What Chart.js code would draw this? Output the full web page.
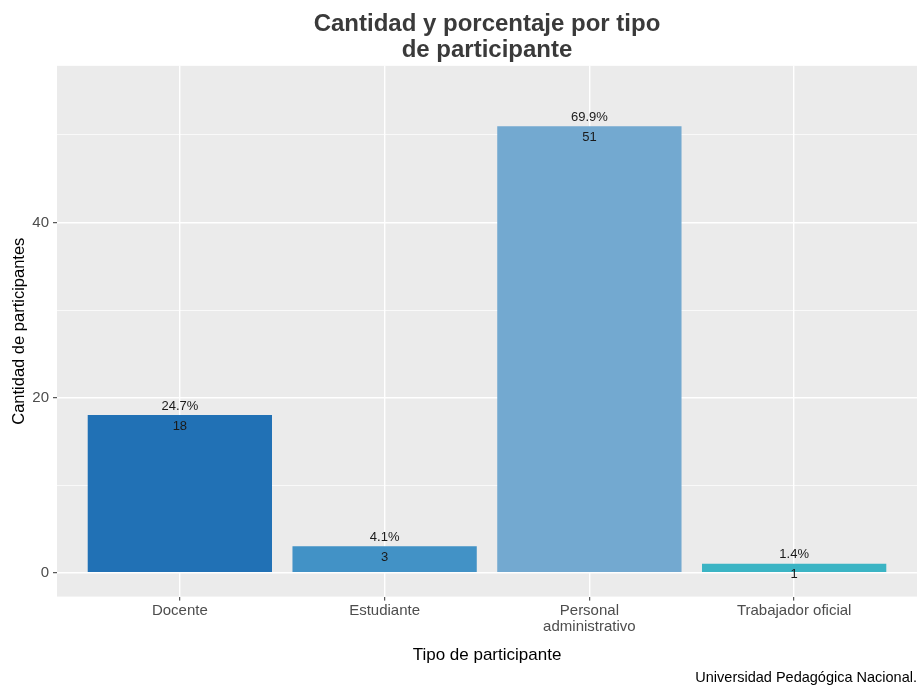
<!DOCTYPE html>
<html>
<head>
<meta charset="utf-8">
<script src="https://cdn.jsdelivr.net/npm/chart.js@4/dist/chart.umd.min.js"></script>
<style>
  html, body { margin: 0; padding: 0; background: #fff; }
  #wrap { width: 917px; height: 687px; }
</style>
</head>
<body>
<div id="wrap"><canvas id="chart"></canvas></div>
<script>
// data
var categories = ["Docente", "Estudiante", ["Personal", "administrativo"], "Trabajador oficial"];
var counts = [18, 3, 51, 1];
var percents = ["24.7%", "4.1%", "69.9%", "1.4%"];
var barColors = ["#2171B5", "#4292C6", "#73A9D0", "#3BB4C4"];
var yTickLabels = [0, 20, 40];

var FONT = "'Liberation Sans', Arial, sans-serif";

// grey ggplot panel behind the bars
var panelBg = {
  id: "panelBg",
  beforeDraw: function(chart) {
    var a = chart.chartArea, ctx = chart.ctx;
    ctx.save();
    ctx.fillStyle = "#fff";
    ctx.fillRect(0, 0, chart.width, chart.height);
    ctx.fillStyle = "#EBEBEB";
    ctx.fillRect(a.left, a.top, a.right - a.left, a.bottom - a.top);
    ctx.restore();
  }
};

// percent above each bar, count just inside the top
var barLabels = {
  id: "barLabels",
  afterDatasetsDraw: function(chart) {
    var ctx = chart.ctx;
    var meta = chart.getDatasetMeta(0);
    ctx.save();
    ctx.font = "13px " + FONT;
    ctx.fillStyle = "#1a1a1a";
    ctx.textAlign = "center";
    ctx.textBaseline = "middle";
    meta.data.forEach(function(bar, i) {
      ctx.fillText(percents[i], bar.x, bar.y - 9);
      ctx.fillText(String(counts[i]), bar.x, bar.y + 11);
    });
    ctx.restore();
  }
};

new Chart(document.getElementById("chart"), {
  type: "bar",
  data: {
    datasets: [{
      data: counts.map(function(v, i) { return { x: i, y: v }; }),
      backgroundColor: barColors,
      borderWidth: 0,
      categoryPercentage: 1,
      barPercentage: 0.9
    }]
  },
  options: {
    responsive: true,
    maintainAspectRatio: false,
    animation: false,
    layout: { padding: { top: 0, right: 0, bottom: 0, left: 0 } },
    plugins: {
      legend: { display: false },
      tooltip: { enabled: false },
      title: {
        display: true,
        fullSize: false, // centre over the panel like ggplot
        text: ["Cantidad y porcentaje por tipo", "de participante"],
        color: "#3a3a3a",
        font: { family: FONT, size: 24, weight: "bold", lineHeight: 1.08 },
        padding: { top: 11, bottom: 3 }
      },
      subtitle: {
        display: true,
        position: "bottom",
        align: "end",
        text: "Universidad Pedagógica Nacional.",
        color: "#000",
        font: { family: FONT, size: 14.5 },
        padding: { top: 0, bottom: 0 }
      }
    },
    scales: {
      x: {
        type: "linear",
        offset: false,
        min: -0.6,
        max: 3.6,
        afterFit: function(scale) { scale.height = 73; },
        ticks: {
          stepSize: 1,
          includeBounds: false,
          autoSkip: false,
          maxRotation: 0,
          padding: 2,
          color: "#4D4D4D",
          font: { family: FONT, size: 15, lineHeight: 1.1 },
          callback: function(v) { return categories[v]; }
        },
        grid: {
          offset: false,
          color: "#fff",
          lineWidth: 1.4,
          tickLength: 4,
          tickColor: "#333",
          tickWidth: 1
        },
        border: { display: false },
        title: {
          display: true,
          text: "Tipo de participante",
          color: "#000",
          font: { family: FONT, size: 17 },
          padding: { top: 0, bottom: 4 }
        }
      },
      y: {
        min: -2.74,
        max: 57.9,
        afterFit: function(scale) { scale.width = 57; },
        ticks: {
          stepSize: 10,
          includeBounds: false,
          padding: 4,
          color: "#4D4D4D",
          font: { family: FONT, size: 15 },
          callback: function(v) { return yTickLabels.indexOf(v) >= 0 ? String(v) : ""; }
        },
        grid: {
          color: "#fff",
          lineWidth: function(c) { return c.tick && yTickLabels.indexOf(c.tick.value) >= 0 ? 1.4 : 0.7; },
          tickLength: 4,
          tickColor: function(c) { return c.tick && yTickLabels.indexOf(c.tick.value) >= 0 ? "#333" : "rgba(0,0,0,0)"; },
          tickWidth: 1
        },
        border: { display: false },
        title: {
          display: true,
          text: "Cantidad de participantes",
          color: "#000",
          font: { family: FONT, size: 16.5 },
          padding: { top: 10, bottom: 0 }
        }
      }
    }
  },
  plugins: [panelBg, barLabels]
});
</script>
</body>
</html>
